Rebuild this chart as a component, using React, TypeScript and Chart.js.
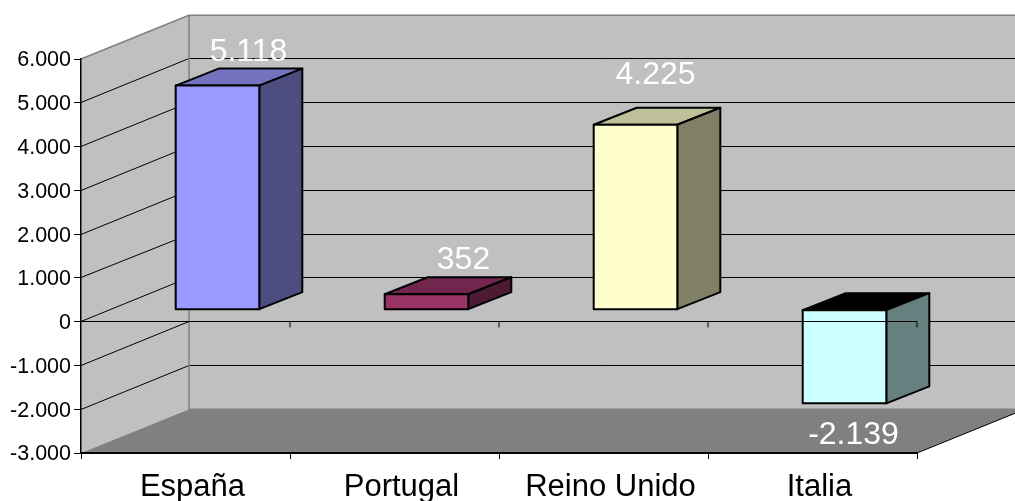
import React, { useEffect, useRef } from "react";
import { Chart, registerables } from "chart.js";

Chart.register(...registerables);

const categories = ["España", "Portugal", "Reino Unido", "Italia"];
const values = [5118, 352, 4225, -2139];
const frontColors = ["#9999FF", "#993366", "#FFFFCC", "#CCFFFF"];
const topColors = ["#7373BF", "#73264D", "#BFBF99", "#000000"];
const sideColors = ["#4D4D80", "#4D1A33", "#808066", "#668080"];
const valueLabels = ["5.118", "352", "4.225", "-2.139"];
const labelNudges = [[31, -33], [37, -34], [20, -50], [9, 32]];

const FONT = '"Liberation Sans", Arial, sans-serif';
const WALL = "#C0C0C0";
const FLOOR = "#808080";
const DEPTH = { x: 108, y: -43.78 };
const BAR_OFFSET = { x: 32, y: -12 };
const BAR_DEPTH = { x: 43, y: -17 };

const fmt = (v: number) => {
  const s = String(Math.abs(v)).replace(/\B(?=(\d{3})+$)/g, ".");
  return (v < 0 ? "-" : "") + s;
};
const crisp = (y: number) => Math.floor(y) + 0.5;

const poly = (ctx: CanvasRenderingContext2D, pts: number[][], fill?: string, stroke?: string, lw = 1) => {
  ctx.beginPath();
  pts.forEach(([x, y], i) => (i ? ctx.lineTo(x, y) : ctx.moveTo(x, y)));
  if (fill) {
    ctx.closePath();
    ctx.fillStyle = fill;
    ctx.fill();
  }
  if (stroke) {
    ctx.strokeStyle = stroke;
    ctx.lineWidth = lw;
    ctx.lineJoin = "round";
    ctx.stroke();
  }
};

const box3d = {
  id: "box3d",
  beforeDraw(chart: any) {
    const { ctx, chartArea: a, scales } = chart;
    const { left: l, right: r, top: t, bottom: b } = a;
    const d = DEPTH;
    ctx.save();
    // back wall
    poly(ctx, [[l + d.x, t + d.y], [r + d.x, t + d.y], [r + d.x, b + d.y], [l + d.x, b + d.y]], WALL);
    // left wall
    poly(ctx, [[l, t], [l + d.x, t + d.y], [l + d.x, b + d.y], [l, b]], WALL);
    // floor
    poly(ctx, [[l, b], [l + d.x, b + d.y], [r + d.x, b + d.y], [r, b]], FLOOR);
    // gridlines
    scales.y.ticks.forEach((tk: any) => {
      const y = scales.y.getPixelForValue(tk.value);
      if (tk.value === scales.y.min || tk.value === scales.y.max) return;
      const by = crisp(y + d.y);
      poly(ctx, [[l, crisp(y)], [l + d.x, by], [r + d.x, by]], undefined, "#000000", 1);
    });
    // wall edges
    poly(ctx, [[l, t], [l + d.x, t + d.y], [r + d.x, t + d.y]], undefined, "#808080", 1.5);
    poly(ctx, [[l + d.x, t + d.y], [l + d.x, b + d.y], [r + d.x, b + d.y]], undefined, "#808080", 1.5);
    // floor front-right edge
    poly(ctx, [[r, b], [r + d.x, b + d.y]], undefined, "#000000", 1);
    ctx.restore();
  },
  beforeDatasetDraw(chart: any, args: any) {
    const { ctx } = chart;
    ctx.save();
    ctx.translate(BAR_OFFSET.x, BAR_OFFSET.y);
    const meta = chart.getDatasetMeta(args.index);
    meta.data.forEach((bar: any, i: number) => {
      const x0 = bar.x - bar.width / 2;
      const x1 = bar.x + bar.width / 2;
      const top = Math.min(bar.y, bar.base);
      const bottom = Math.max(bar.y, bar.base);
      const e = BAR_DEPTH;
      poly(ctx, [[x0, top], [x0 + e.x, top + e.y], [x1 + e.x, top + e.y], [x1, top]], topColors[i], "#000000", 2);
      poly(ctx, [[x1, top], [x1 + e.x, top + e.y], [x1 + e.x, bottom + e.y], [x1, bottom]], sideColors[i], "#000000", 2);
    });
  },
  afterDatasetDraw(chart: any, args: any) {
    const { ctx } = chart;
    const meta = chart.getDatasetMeta(args.index);
    // outline centred on the front face of each bar
    meta.data.forEach((bar: any) => {
      const x0 = bar.x - bar.width / 2;
      const x1 = bar.x + bar.width / 2;
      const top = Math.min(bar.y, bar.base);
      const bottom = Math.max(bar.y, bar.base);
      ctx.beginPath();
      ctx.rect(x0, top, x1 - x0, bottom - top);
      ctx.strokeStyle = "#000000";
      ctx.lineWidth = 2;
      ctx.lineJoin = "round";
      ctx.stroke();
    });
    ctx.restore();
  },
  afterDatasetsDraw(chart: any) {
    const { ctx, chartArea: a, scales } = chart;
    const y0 = crisp(scales.y.getPixelForValue(0));
    ctx.save();
    // category axis at the zero plane, with its tick marks
    poly(ctx, [[a.left, y0], [a.right, y0]], undefined, "#000000", 1);
    for (let i = 1; i <= categories.length; i++) {
      const x = a.left + (i * (a.right - a.left)) / categories.length;
      poly(ctx, [[x, y0], [x, y0 + 6]], undefined, "#000000", 1);
    }
    // value labels
    const meta = chart.getDatasetMeta(0);
    ctx.font = `32px ${FONT}`;
    ctx.fillStyle = "#FFFFFF";
    ctx.textAlign = "center";
    ctx.textBaseline = "middle";
    meta.data.forEach((bar: any, i: number) => {
      const edge = values[i] >= 0 ? Math.min(bar.y, bar.base) : Math.max(bar.y, bar.base);
      ctx.fillText(
        valueLabels[i],
        bar.x + BAR_OFFSET.x + labelNudges[i][0],
        edge + BAR_OFFSET.y + labelNudges[i][1]
      );
    });
    ctx.restore();
  },
};

export default function App() {
  const ref = useRef<HTMLCanvasElement>(null);
  useEffect(() => {
    document.body.style.margin = "0";
    const chart = new Chart(ref.current!, {
      type: "bar",
      data: {
        labels: categories,
        datasets: [
          {
            data: values,
            backgroundColor: frontColors,
            borderWidth: 0,
            barPercentage: 0.4,
            categoryPercentage: 1,
            clip: false,
          } as any,
        ],
      },
      options: {
        responsive: false,
        animation: false,
        devicePixelRatio: 1,
        layout: { padding: { left: 0, top: 59, right: 98, bottom: 0 } },
        plugins: { legend: { display: false }, title: { display: false }, tooltip: { enabled: false } },
        scales: {
          x: {
            afterFit: (s: any) => {
              s.height = 48;
            },
            grid: { drawOnChartArea: false, drawTicks: true, tickLength: 6, color: "#000000", offset: true },
            border: { color: "#000000", width: 2 },
            ticks: {
              color: "#000000",
              font: { family: FONT, size: 31 },
              padding: 10,
              labelOffset: 7,
              maxRotation: 0,
              autoSkip: false,
            },
          },
          y: {
            min: -3000,
            max: 6000,
            afterFit: (s: any) => {
              s.width = 81;
            },
            grid: { drawOnChartArea: false, drawTicks: true, tickLength: 7, color: "#000000" },
            border: { color: "#000000", width: 1.5 },
            ticks: {
              stepSize: 1000,
              color: "#000000",
              font: { family: FONT, size: 21.5 },
              padding: 3,
              labelOffset: 1.5,
              callback: (v: any) => fmt(Number(v)),
            },
          },
        },
      },
      plugins: [box3d],
    });
    return () => chart.destroy();
  }, []);
  return <canvas ref={ref} width={1015} height={501} style={{ display: "block" }} />;
}
